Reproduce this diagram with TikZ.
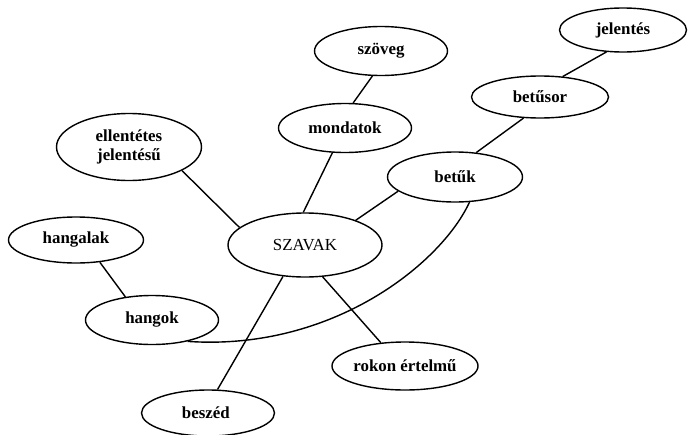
\documentclass[tikz,border=0pt]{standalone}
\usepackage{fontspec}
\setmainfont{Liberation Serif}
\usetikzlibrary{shapes.geometric}

\begin{document}
\begin{tikzpicture}[x=0.025cm, y=-0.025cm,
    word/.style={ellipse, draw, line width=1pt, inner sep=0pt, align=center,
                 font=\fontsize{12}{13.5}\selectfont\bfseries},
    link/.style={line width=1pt}]
    \useasboundingbox (0,0) rectangle (688,434);
    % words (pixel positions, width and height of each ellipse)
    \foreach \name/\x/\y/\w/\h/\txt in {
      szoveg/381/51/133/49/{szöveg},
      mondatok/345/128/133/49/{mondatok},
      jelentes/623/30/127/44/{jelentés},
      betusor/540/97/137/42/{betűsor},
      betuk/455/177/135/50/{betűk},
      ellentetes/129/147/145/67/{ellentétes\\jelentésű},
      SZAVAK/305/245/154/64/{\mdseries SZAVAK},
      hangalak/76/240/135/46/{hangalak},
      hangok/152/320/133/49/{hangok},
      rokon/405/366/144/48/{rokon értelmű},
      beszed/208/413/133/46/{beszéd}
    }{
      \node[word, minimum width=\w*0.025cm, minimum height=\h*0.025cm]
        (\name) at (\x,\y) {\txt};
    }
    % connectors
    \foreach \a/\b in {
      szoveg.251/mondatok.72, mondatok.243/SZAVAK.93,
      ellentetes.336/SZAVAK.165, SZAVAK.26/betuk.194,
      betuk.49/betusor.232, betusor.42/jelentes.233,
      hangalak.317/hangok.139, SZAVAK.235/beszed.68,
      SZAVAK.299/rokon.136
    }{
      \draw[link] (\a) -- (\b);
    }
    \draw[link] (betuk.300) .. controls +(-28,61) and +(145,10) .. (hangok.329);
\end{tikzpicture}
\end{document}
